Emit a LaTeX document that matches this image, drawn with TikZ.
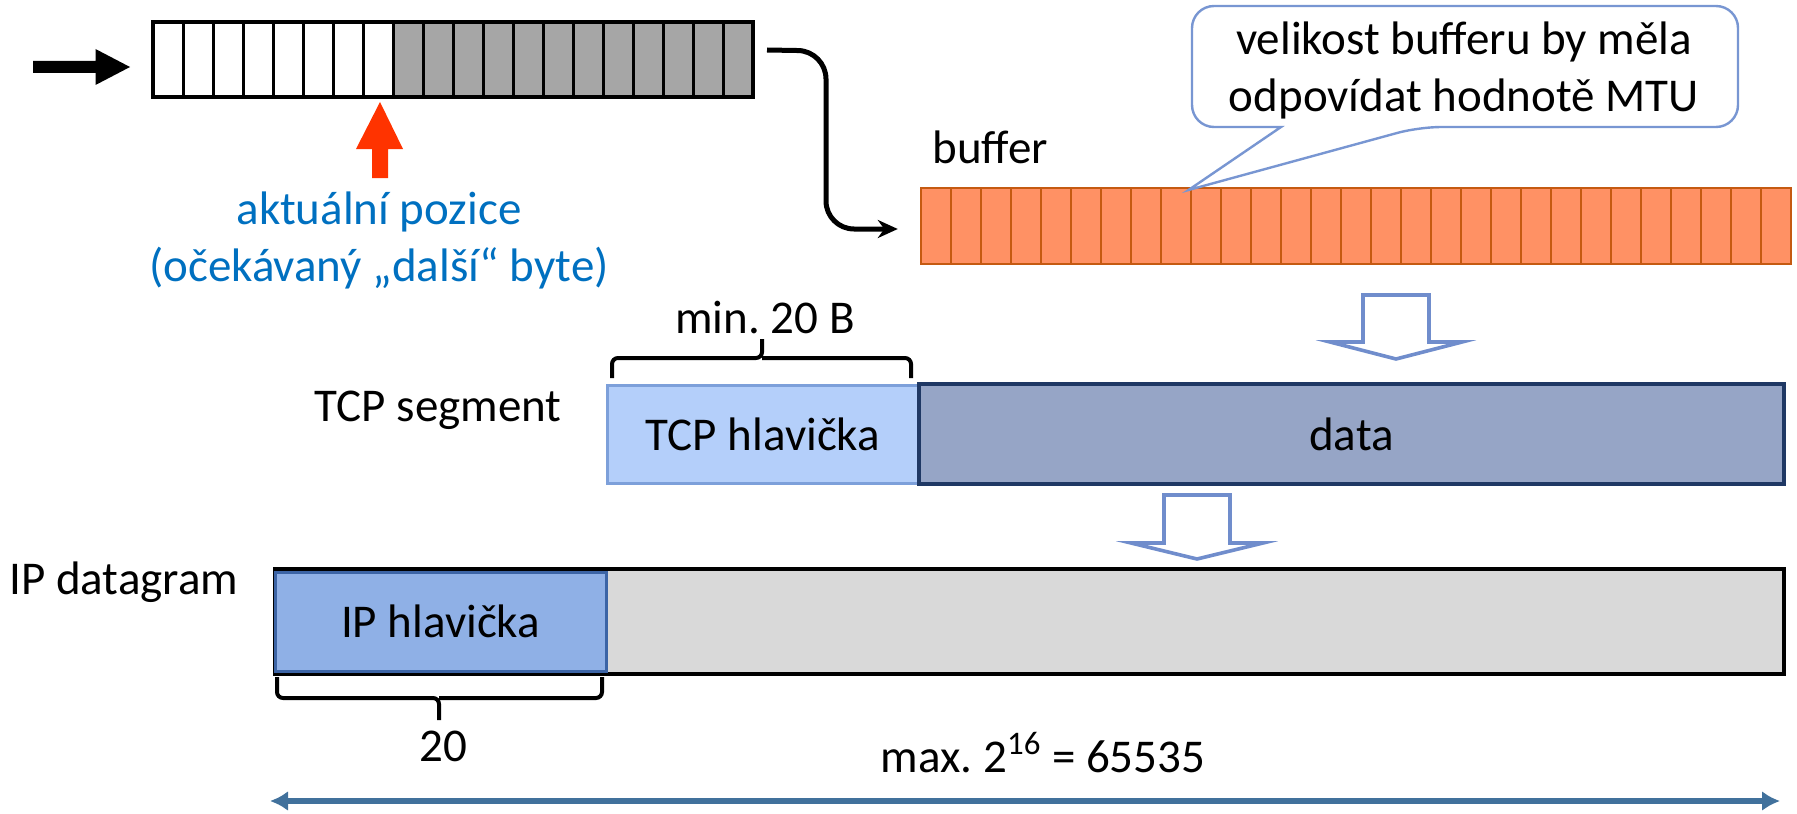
\documentclass[tikz,border=0pt]{standalone}
\usepackage{fontspec}
\setmainfont{Carlito}
\usetikzlibrary{arrows.meta}
\definecolor{cellgrey}{RGB}{166,166,166}
\definecolor{posred}{RGB}{255,51,0}
\definecolor{posblue}{RGB}{0,112,192}
\definecolor{buffill}{RGB}{255,145,100}
\definecolor{bufline}{RGB}{197,90,17}
\definecolor{calloutline}{RGB}{120,150,210}
\definecolor{blockarrow}{RGB}{112,141,204}
\definecolor{tcpfill}{RGB}{180,207,250}
\definecolor{tcpline}{RGB}{125,160,218}
\definecolor{datafill}{RGB}{150,165,198}
\definecolor{dataline}{RGB}{31,56,100}
\definecolor{ipgrey}{RGB}{217,217,217}
\definecolor{ipfill}{RGB}{143,176,230}
\definecolor{ipline}{RGB}{60,100,165}
\definecolor{spanblue}{RGB}{65,113,156}
\tikzset{
  lbl/.style={font=\fontsize{23.5}{28.5}\selectfont, inner sep=0pt},
  hollowarrow/.style={draw=blockarrow, fill=white, line width=1.8pt, line join=miter},
  bracket/.style={draw=black, line width=2pt, rounded corners=3pt},
}
\begin{document}
\begin{tikzpicture}[x=0.5pt,y=-0.5pt]
\useasboundingbox (0,0) rectangle (1797,813);

% incoming byte stream: 8 received (white) + 12 pending (grey) cells
\foreach \i in {0,...,19}{
  \pgfmathsetmacro{\xa}{153+30*\i}
  \ifnum\i<8
    \filldraw[fill=white, draw=black, line width=1.5pt] (\xa,22) rectangle ++(30,75);
  \else
    \filldraw[fill=cellgrey, draw=black, line width=1.5pt] (\xa,22) rectangle ++(30,75);
  \fi
}
\node[draw=black, line width=2pt, minimum width=300pt, minimum height=37.5pt, inner sep=0pt] (strip) at (453,59.5) {};

% black input arrow
\fill[black] (33,61) -- (95.5,61) -- (95.5,49) -- (130,67) -- (95.5,85) -- (95.5,73) -- (33,73) -- cycle;

% current position marker
\fill[posred] (380,102) -- (403,149) -- (388,149) -- (388,178) -- (372,178) -- (372,149) -- (356,149) -- cycle;
\node[lbl, text=posblue, align=center] (pos) at (379,240)
  {aktuální pozice\\(očekávaný „další“ byte)};

% buffer cells
\foreach \i in {0,...,28}{
  \pgfmathsetmacro{\xa}{921+30*\i}
  \filldraw[fill=buffill, draw=bufline, line width=0.9pt] (\xa,188) rectangle ++(30,76);
}
\node[draw=bufline, line width=1.2pt, minimum width=435pt, minimum height=38pt, inner sep=0pt] (buf) at (1356,226) {};
\node[lbl, anchor=west] (buflabel) at (932,147) {buffer};

% strip -> buffer connector
\coordinate (cs) at ([xshift=6pt,yshift=4.75pt]strip.east);
\coordinate (ce) at ([xshift=-11pt,yshift=-1.5pt]buf.west);
\draw[line width=2.5pt, rounded corners=14pt, -{Stealth[length=10pt,width=9pt]}]
  (cs) -- (826,51) -- (826,229) -- (ce);

% callout
\draw[draw=calloutline, fill=white, line width=1.2pt]
  (1281,127) [rounded corners=11pt] -- (1192,127) -- (1192,6) -- (1738,6) -- (1738,127) -- (1419,127)
  [sharp corners] -- (1188.5,190) -- cycle;
\node[lbl, align=center] (callout) at (1464,70)
  {velikost bufferu by měla\\odpovídat hodnotě MTU};

% buffer -> TCP segment
\draw[hollowarrow] (1363,295) -- (1429,295) -- (1429,342) -- (1462,342) -- (1396,359) -- (1330,342) -- (1363,342) -- cycle;

% TCP segment
\node[lbl, anchor=east] (tcplabel) at (562,410) {TCP segment};
\node[lbl, draw=tcpline, fill=tcpfill, line width=1.5pt, minimum width=156pt, minimum height=49pt] (tcph) at (763,434) {TCP hlavička};
\node[lbl, draw=dataline, fill=datafill, line width=1.8pt, minimum width=432.5pt, minimum height=50pt] (data) at (1351.5,434) {data};
\draw[bracket] (612,378) -- (612,358) -- (762,358) -- (762,339);
\draw[bracket] (911,378) -- (911,358) -- (762,358);
\node[lbl] (minlbl) at (765,318) {min.\ 20 B};

% TCP segment -> IP datagram
\draw[hollowarrow] (1164,495) -- (1230,495) -- (1230,543) -- (1263,543) -- (1197,559) -- (1131,543) -- (1164,543) -- cycle;

% IP datagram
\node[lbl, anchor=west] (iplabel) at (9,582) {IP datagram};
\node[draw=black, fill=ipgrey, line width=1.8pt, minimum width=754.5pt, minimum height=52.5pt, inner sep=0pt] (ipd) at (1029.5,621.5) {};
\node[lbl, draw=ipline, fill=ipfill, line width=1.5pt, minimum width=165.5pt, minimum height=49.5pt] (iph) at (440.5,621.5) {IP hlavička};
\draw[bracket] (277,677) -- (277,698) -- (439,698) -- (439,720);
\draw[bracket] (602,677) -- (602,698) -- (439,698);
\node[lbl] (hdr20) at (443,746) {20};
\node[lbl] (maxlbl) at (1043,753) {max.\ 2\textsuperscript{16} = 65535};

% total length span
\coordinate (sl) at (270,801);
\coordinate (sr) at (1780,801);
\draw[spanblue, line width=3pt, {Latex[length=9pt,width=10pt]}-{Latex[length=9pt,width=10pt]}] (sl) -- (sr);
\end{tikzpicture}
\end{document}
